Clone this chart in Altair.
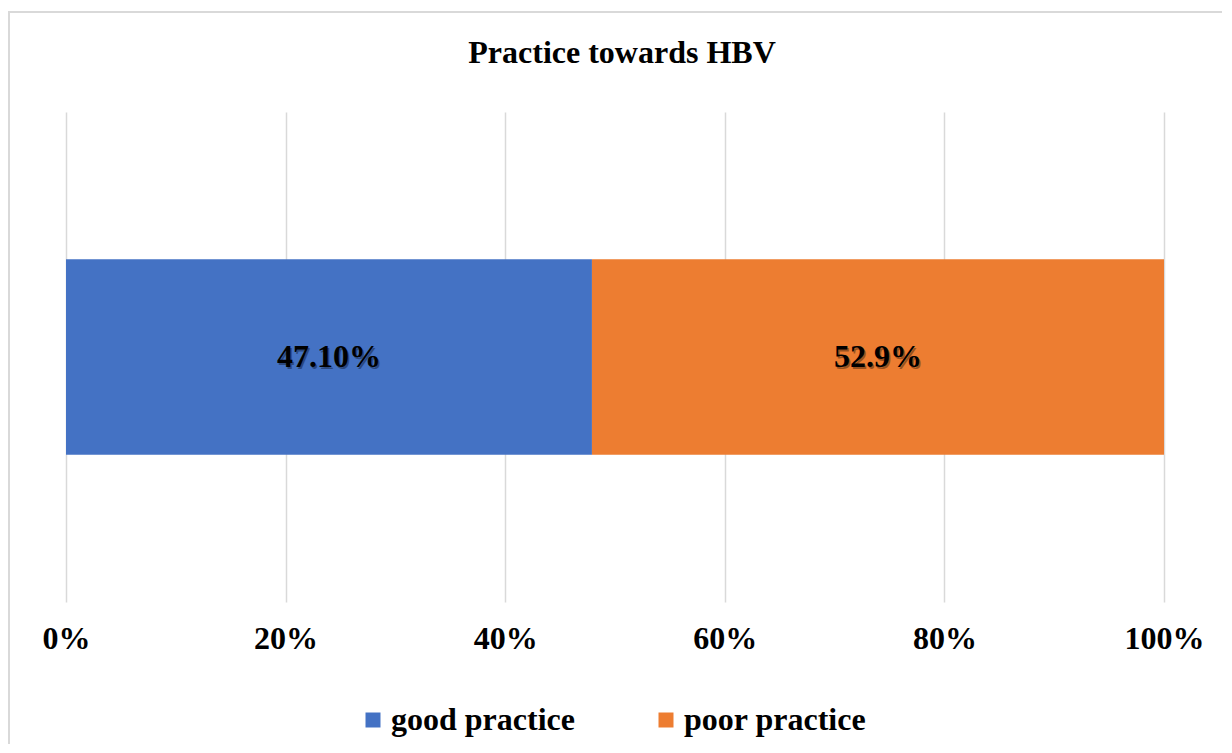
import altair as alt
import pandas as pd

categories = ["good practice", "poor practice"]
values = [47.9, 52.1]
labels = ["47.10%", "52.9%"]
colors = ["#4472C4", "#ED7D31"]
tick_values = [0, 20, 40, 60, 80, 100]
title_text = ["Practice towards HBV"]

df = pd.DataFrame({"cat": categories, "val": values, "lab": labels, "row": ["Practice"] * 2,
                   "order": [0, 1]})

FONT = "Liberation Serif"
W, H = 1098, 490

base = alt.Chart(df).transform_stack(
    stack="val", groupby=["row"], as_=["start", "end"], sort=[alt.SortField("order")]
).transform_calculate(mid="(datum.start + datum.end) / 2")

x_scale = alt.Scale(domain=[0, 100], nice=False, zero=True)
y_scale = alt.Scale(paddingInner=0.43, paddingOuter=0.43)

bars = base.mark_bar().encode(
    x=alt.X("start:Q", scale=x_scale,
            axis=alt.Axis(values=tick_values, labelExpr="datum.value + '%'", title=None,
                          domain=False, ticks=False, grid=True, gridColor="#d9d9d9",
                          gridWidth=1.5, labelFont=FONT, labelFontSize=32, labelFlush=False,
                          labelFontWeight="bold", labelColor="#000000", labelPadding=21)),
    x2="end:Q",
    y=alt.Y("row:N", scale=y_scale, axis=None),
    color=alt.Color("cat:N", scale=alt.Scale(domain=categories, range=colors),
                    legend=alt.Legend(title=None, orient="none", legendX=291, legendY=592,
                                      direction="horizontal", symbolType="square",
                                      symbolSize=225, symbolStrokeWidth=0,
                                      labelFont=FONT, labelFontSize=32, labelFontWeight="bold",
                                      labelColor="#000000", labelOffset=2, labelLimit=400,
                                      columnPadding=75)),
)

shadow = base.mark_text(font=FONT, fontSize=32, fontWeight="bold", color="#000000",
                        opacity=0.35, dx=1.5, dy=1.5).encode(
    x=alt.X("mid:Q", scale=x_scale),
    y=alt.Y("row:N", scale=y_scale),
    text="lab:N",
)
texts = base.mark_text(font=FONT, fontSize=32, fontWeight="bold", color="#000000").encode(
    x=alt.X("mid:Q", scale=x_scale),
    y=alt.Y("row:N", scale=y_scale),
    text="lab:N",
)

title = alt.Chart(pd.DataFrame({"t": title_text})).mark_text(
    font=FONT, fontSize=32, fontWeight="bold", color="#000000", baseline="alphabetic",
    align="center", clip=False
).encode(x=alt.value(W / 2 + 7), y=alt.value(-49), text="t:N")

border = alt.Chart(pd.DataFrame({"a": [0]})).mark_rect(
    fill=None, stroke="#d9d9d9", strokeWidth=2, clip=False
).encode(x=alt.value(-57), x2=alt.value(W + 100), y=alt.value(-100), y2=alt.value(H + 200))

chart = alt.layer(border, bars, shadow, texts, title).properties(
    width=W, height=H,
    autosize=alt.AutoSizeParams(type="none"),
    padding={"left": 58, "top": 104, "right": 58, "bottom": 142},
).configure_view(stroke=None)

chart.save("out.html", embed_options={"renderer": "svg", "actions": False})
